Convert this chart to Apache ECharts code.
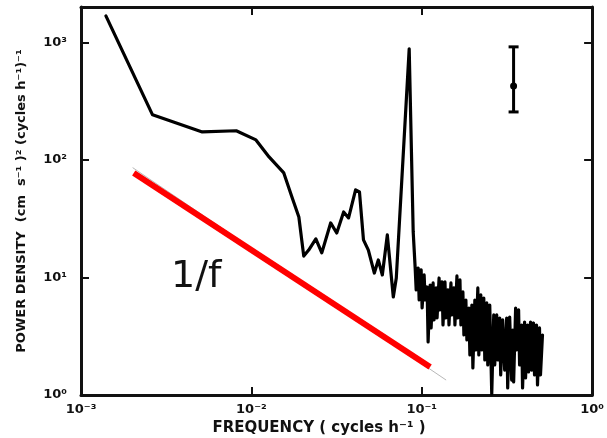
<!DOCTYPE html>
<html>
<head>
<meta charset="utf-8">
<script src="https://cdn.jsdelivr.net/npm/echarts@6/dist/echarts.min.js"></script>
<style>
html,body{margin:0;padding:0;background:#fff;}
#chart{width:607px;height:438px;}
</style>
</head>
<body>
<div id="chart"></div>
<script>
// Spectrum (frequency in cycles/h, power density)
const freq = [0.00140, 0.00263, 0.00515, 0.00815, 0.01064, 0.0127, 0.0155, 0.0173, 0.0190, 0.0203,
  0.0217, 0.0239, 0.0259, 0.0292, 0.0317, 0.0348, 0.0372, 0.0409, 0.0431, 0.0455,
  0.0486, 0.0527, 0.0556, 0.0587, 0.0628, 0.0681, 0.0709, 0.0844,
  0.0891, 0.09152, 0.09276, 0.09528, 0.09657, 0.0992, 0.1005, 0.1033, 0.1047, 0.1075,
  0.1090, 0.1120, 0.1135, 0.1166, 0.1181, 0.1214, 0.1230, 0.1264, 0.1281, 0.1316,
  0.1333, 0.1369, 0.1388, 0.1426, 0.1445, 0.1484, 0.1505, 0.1546, 0.1566, 0.1609,
  0.1631, 0.1676, 0.1698, 0.1744, 0.1768, 0.1816, 0.1841, 0.1891, 0.1917, 0.1969,
  0.1996, 0.2050, 0.2078, 0.2134, 0.2163, 0.2222, 0.2252, 0.2313, 0.2345, 0.2408,
  0.2441, 0.2507, 0.2576, 0.2646, 0.2682, 0.2755, 0.2793, 0.2869, 0.2907, 0.2987,
  0.3068, 0.3152, 0.3195, 0.3282, 0.3372, 0.3417, 0.3463, 0.3557, 0.3605, 0.3703,
  0.3753, 0.3855, 0.3907, 0.4014, 0.4068, 0.4179, 0.4236, 0.4351, 0.4410, 0.4530,
  0.4592, 0.4717, 0.4781, 0.4911, 0.4977, 0.5113];
const power = [1680, 242, 173, 177, 148, 106, 77.5, 48.4, 32.7, 15.2,
  17.1, 21.3, 16.2, 29.1, 23.9, 36.1, 32.1, 55.6, 53.4, 20.9,
  17.1, 10.9, 14.1, 10.5, 23.0, 6.82, 9.9, 881,
  24.4, 12.0, 7.83, 12.0, 6.43, 11.6, 5.50, 10.5, 6.43, 8.30,
  2.83, 8.63, 3.72, 8.98, 4.35, 8.14, 4.52, 9.90, 5.29, 9.16,
  3.94, 9.16, 4.52, 7.83, 3.94, 8.98, 4.80, 8.14, 3.94, 10.3,
  4.52, 9.52, 3.94, 7.53, 3.24, 6.43, 2.94, 5.50, 2.19, 5.83,
  1.70, 6.43, 2.42, 8.14, 2.19, 7.10, 2.42, 6.69, 1.99, 6.07,
  1.80, 5.83, 1.02, 4.80, 1.80, 4.80, 1.99, 4.52, 1.48, 4.35,
  1.63, 4.52, 1.15, 4.61, 1.34, 3.57, 1.29, 5.50, 2.42, 5.29,
  1.80, 3.94, 1.15, 4.18, 1.40, 3.94, 1.57, 4.18, 1.63, 4.10,
  1.48, 3.94, 1.22, 3.72, 1.48, 3.24];

// 1/f reference line
const refFreq = [0.00204, 0.112];
const refPower = [77.5, 1.73];
// faint guide line beneath it
const guideFreq = [0.00201, 0.139];
const guidePower = [86, 1.34];

// error bar
const errFreq = [0.346];
const errMid = [426];
const errLow = [256];
const errHigh = [916];

// tick labels
const xTickLabels = ['10\u207B\u00B3', '10\u207B\u00B2', '10\u207B\u00B9', '10\u2070'];
const xTickExp = [-3, -2, -1, 0];
const yTickLabels = ['10\u2070', '10\u00B9', '10\u00B2', '10\u00B3'];
const yTickExp = [0, 1, 2, 3];

const xLabel = 'FREQUENCY ( cycles h\u207B\u00B9 )';
const yLabel = 'POWER DENSITY  (cm  s\u207B\u00B9 )\u00B2 (cycles h\u207B\u00B9)\u207B\u00B9';
const refText = '1/f';

function labelFor(v, exps, labels) {
  const l = Math.log10(v);
  const e = Math.round(l);
  if (Math.abs(l - e) > 1e-6) return '';
  const i = exps.indexOf(e);
  return i >= 0 ? labels[i] : '';
}

const labelFont = { fontFamily: 'DejaVu Sans', fontWeight: 'bold', fontSize: 13, color: '#111' };
const tickStyle = { show: true, inside: true, length: 8, lineStyle: { color: '#111', width: 2 } };
const lineStyleAxis = { show: true, onZero: false, lineStyle: { color: '#111', width: 3 } };

const chart = echarts.init(document.getElementById('chart'), null, { renderer: 'canvas' });
chart.setOption({
  animation: false,
  backgroundColor: '#fff',
  grid: { left: 81, right: 12, top: 7, bottom: 43, containLabel: false },
  xAxis: [
    { type: 'log', logBase: 10, min: 0.001, max: 1, position: 'bottom',
      axisLine: lineStyleAxis, axisTick: tickStyle, splitLine: { show: false }, minorTick: { show: false },
      axisLabel: Object.assign({ margin: 8, formatter: v => labelFor(v, xTickExp, xTickLabels) }, labelFont) },
    { type: 'log', logBase: 10, min: 0.001, max: 1, position: 'top',
      axisLine: lineStyleAxis, axisTick: tickStyle, splitLine: { show: false }, axisLabel: { show: false } }
  ],
  yAxis: [
    { type: 'log', logBase: 10, min: 1, max: 2000, position: 'left',
      axisLine: lineStyleAxis, axisTick: tickStyle, splitLine: { show: false }, minorTick: { show: false },
      axisLabel: Object.assign({ margin: 14, formatter: v => labelFor(v, yTickExp, yTickLabels) }, labelFont) },
    { type: 'log', logBase: 10, min: 1, max: 2000, position: 'right',
      axisLine: lineStyleAxis, axisTick: tickStyle, splitLine: { show: false }, axisLabel: { show: false } }
  ],
  series: [
    { type: 'line', name: 'guide', data: guideFreq.map((f, i) => [f, guidePower[i]]),
      showSymbol: false, lineStyle: { color: '#b8b8b8', width: 1 }, z: 1 },
    { type: 'line', name: '1/f', data: refFreq.map((f, i) => [f, refPower[i]]),
      showSymbol: false, lineStyle: { color: '#ff0000', width: 6, cap: 'butt' }, z: 2 },
    { type: 'line', name: 'spectrum', data: freq.map((f, i) => [f, power[i]]),
      showSymbol: false, lineStyle: { color: '#000', width: 3.2, join: 'round', cap: 'round' }, z: 3 },
    { type: 'custom', name: 'error',
      data: errFreq.map((f, i) => [f, errMid[i], errLow[i], errHigh[i]]),
      renderItem: function (params, api) {
        const x = api.value(0);
        const mid = api.coord([x, api.value(1)]);
        const lo = api.coord([x, api.value(2)]);
        const hi = api.coord([x, api.value(3)]);
        const cw = 5;
        const st = { stroke: '#000', lineWidth: 3 };
        return { type: 'group', children: [
          { type: 'line', shape: { x1: lo[0], y1: lo[1], x2: hi[0], y2: hi[1] }, style: st },
          { type: 'line', shape: { x1: lo[0] - cw, y1: lo[1], x2: lo[0] + cw, y2: lo[1] }, style: st },
          { type: 'line', shape: { x1: hi[0] - cw, y1: hi[1], x2: hi[0] + cw, y2: hi[1] }, style: st },
          { type: 'circle', shape: { cx: mid[0], cy: mid[1], r: 3.5 }, style: { fill: '#000' } }
        ] };
      }, z: 4 }
  ],
  graphic: [
    { type: 'text', left: 171, top: 258, style: { text: refText, fontFamily: 'DejaVu Sans', fontSize: 38, fill: '#111' } },
    { type: 'text', x: 319, y: 428, style: { text: xLabel, fontFamily: 'DejaVu Sans', fontWeight: 'bold', fontSize: 15,
      fill: '#111', textAlign: 'center', textVerticalAlign: 'middle' } },
    { type: 'text', x: 22, y: 201, rotation: Math.PI / 2, style: { text: yLabel, fontFamily: 'DejaVu Sans', fontWeight: 'bold',
      fontSize: 13, fill: '#111', textAlign: 'center', textVerticalAlign: 'middle' } }
  ]
});
</script>
</body>
</html>
